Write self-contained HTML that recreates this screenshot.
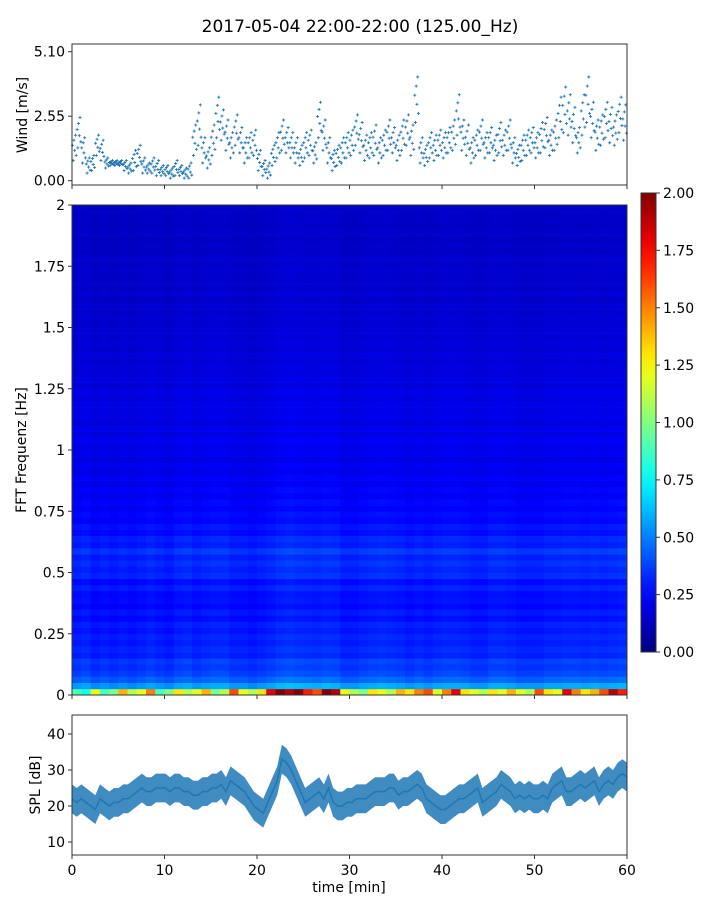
<!DOCTYPE html>
<html><head><meta charset="utf-8">
<style>
body{margin:0;background:#fff;width:720px;height:900px;overflow:hidden}
svg{display:block;font-family:"DejaVu Sans","Liberation Sans",sans-serif}
</style></head>
<body>
<svg id="c" width="720" height="900" xmlns="http://www.w3.org/2000/svg">
<text x="360" y="32" text-anchor="middle" font-size="17" fill="#000">2017-05-04 22:00-22:00 (125.00_Hz)</text>
</svg>
<script>
const windValues=[1.3,1.9,1.2,0.6,0.7,1.4,1.2,0.7,0.7,0.7,
0.7,0.6,0.5,0.8,1.0,0.6,0.5,0.6,0.5,0.4,
0.4,0.3,0.5,0.4,0.3,0.4,1.6,2.2,1.2,0.9,
1.6,2.5,2.2,1.8,1.4,2.0,1.6,1.2,1.4,1.5,
0.8,0.5,0.4,1.0,1.4,1.8,1.6,1.4,1.2,1.0,
1.4,1.5,1.1,2.4,1.8,1.2,0.8,1.0,1.2,1.4,
1.5,2.0,1.7,1.3,1.4,1.6,1.2,1.5,1.8,1.6,
1.3,1.8,2.0,1.6,3.2,1.2,1.0,1.4,1.3,1.5,
1.4,1.6,1.8,2.6,1.8,1.6,1.2,1.5,1.8,1.4,
1.6,1.3,1.7,1.5,1.8,1.2,1.0,1.3,1.5,1.6,
1.4,1.7,1.9,1.5,1.8,2.5,2.8,2.6,2.2,1.6,
2.6,3.2,2.4,1.8,2.0,2.4,2.2,2.0,2.6,2.3];
const windSpread=[0.5,0.6,0.5,0.3,0.3,0.4,0.4,0.2,0.1,0.1,
0.1,0.2,0.2,0.4,0.4,0.3,0.2,0.3,0.3,0.2,
0.2,0.2,0.3,0.2,0.2,0.3,0.6,0.8,0.5,0.4,
0.6,0.8,0.6,0.6,0.5,0.6,0.5,0.5,0.5,0.5,
0.4,0.3,0.3,0.4,0.5,0.6,0.5,0.5,0.5,0.4,
0.5,0.5,0.4,0.7,0.6,0.5,0.4,0.4,0.5,0.5,
0.5,0.6,0.6,0.5,0.5,0.6,0.5,0.5,0.6,0.5,
0.5,0.6,0.6,0.6,0.9,0.5,0.4,0.5,0.5,0.5,
0.5,0.5,0.6,0.8,0.6,0.6,0.5,0.5,0.6,0.5,
0.5,0.5,0.6,0.5,0.6,0.5,0.4,0.5,0.5,0.5,
0.5,0.6,0.6,0.5,0.6,0.8,0.9,0.8,0.7,0.5,
0.8,0.9,0.7,0.6,0.6,0.7,0.7,0.6,0.7,0.7];
const splMean=[22,21,22,21,20,19,22,21,20,21,
21,22,22,23,24,25,24,24,25,25,
25,24,25,25,24,24,23,23,24,24,
25,25,26,24,27,26,25,24,22,20,
19,18,21,24,27,33,32,30,27,24,
21,22,23,24,22,25,21,20,20,21,
21,22,22,22,23,24,24,24,25,25,
23,24,24,25,26,25,22,21,20,19,
19,20,21,22,22,23,24,25,21,22,
23,24,26,25,24,22,23,22,23,22,
22,23,22,25,26,27,24,24,25,26,
25,26,27,24,26,27,26,28,29,28];
const splSpread=4;
const freqProfile=[0.8,0.55,0.43,0.37,0.34,0.36,0.3,0.32,0.29,0.31,0.28,
0.3,0.26,0.29,0.25,0.27,0.26,0.3,0.26,0.32,0.3,
0.33,0.3,0.35,0.29,0.31,0.26,0.28,0.24,0.26,0.23,
0.25,0.22,0.24,0.21,0.23,0.2,0.22,0.19,0.21,0.2,
0.22,0.19,0.21,0.18,0.2,0.19,0.2,0.18,0.2,0.17,
0.19,0.17,0.18,0.16,0.18,0.16,0.17,0.16,0.17,0.15,
0.16,0.15,0.16,0.14,0.16,0.14,0.15,0.14,0.15,0.14,
0.15,0.13,0.14,0.13,0.14,0.13,0.14,0.13,0.14];
const timeIntensity=[1.0,1.05,0.95,1.0,0.95,1.0,0.95,1.0,1.05,1.0,
0.95,1.05,1.08,1.0,1.05,1.08,1.08,1.0,1.0,0.95,
1.0,1.05,1.12,1.15,1.12,1.1,1.08,1.12,1.1,1.0,
1.0,1.05,1.08,1.1,1.08,1.05,1.0,1.05,1.0,1.05,
1.08,1.08,1.05,1.0,1.0,1.08,1.08,1.05,1.0,1.0,
1.0,1.05,1.05,1.08,1.08,1.05,1.08,1.05,1.08,1.1];
const lowRow=[0.9,0.8,1.2,0.9,1.0,1.4,1.1,1.2,1.5,0.9,
1.0,1.3,1.1,1.2,1.4,1.0,1.1,1.6,1.2,1.1,
1.3,1.8,2.0,1.9,2.0,1.7,1.6,2.0,1.9,1.2,
1.1,1.0,1.3,1.2,1.1,1.4,1.3,1.5,1.6,1.2,
1.5,1.8,1.3,1.2,1.1,1.3,1.2,1.4,1.2,1.1,
1.6,1.3,1.2,1.8,1.5,1.3,1.4,1.6,1.9,1.7];
const windTicks=[0,2.55,5.10], windTickLabels=["0.00","2.55","5.10"];
const freqTicks=[0,0.25,0.5,0.75,1,1.25,1.5,1.75,2], freqTickLabels=["0","0.25","0.5","0.75","1","1.25","1.5","1.75","2"];
const cbTicks=[0,0.25,0.5,0.75,1,1.25,1.5,1.75,2], cbTickLabels=["0.00","0.25","0.50","0.75","1.00","1.25","1.50","1.75","2.00"];
const splTicks=[10,20,30,40], splTickLabels=["10","20","30","40"];
const timeTicks=[0,10,20,30,40,50,60], timeTickLabels=["0","10","20","30","40","50","60"];

const NS="http://www.w3.org/2000/svg", svg=document.getElementById('c');
function mk(tag,attrs,parent){const e=document.createElementNS(NS,tag);for(const k in attrs)e.setAttribute(k,attrs[k]);(parent||svg).appendChild(e);return e;}
const X0=72,X1=627;
const xs=t=>X0+(t/60)*(X1-X0);
const yWind=v=>180.7-(v/2.55)*64.5;
const yFreq=f=>695-(f/2)*490;
const yCb=v=>652-(v/2)*459;
const ySpl=v=>842-(v-10)*3.6;
function jet(v){v=Math.max(0,Math.min(1,v));const r=Math.max(0,Math.min(1,1.5-Math.abs(4*v-3))),g=Math.max(0,Math.min(1,1.5-Math.abs(4*v-2))),b=Math.max(0,Math.min(1,1.5-Math.abs(4*v-1)));return `rgb(${Math.round(r*255)},${Math.round(g*255)},${Math.round(b*255)})`;}
function txt(x,y,s,anchor,size,name,rot){const t=mk('text',{x:x,y:y,'text-anchor':anchor,'font-size':size||14,fill:'#000'});if(rot)t.setAttribute('transform',`rotate(-90 ${x} ${y})`);t.textContent=s;return t;}

const gW=mk('g',{});


const offs=[0.2,-1,0.6,-0.2,1,-0.6];
windValues.forEach((v,i)=>{const t=(i+0.5)*0.5;offs.forEach((o,k)=>{const x=xs(t+(k-2.5)*0.08),y=yWind(Math.max(0,v+o*windSpread[i]));const p=mk('path',{d:`M${x-1.5},${y}h3M${x},${y-1.5}v3`,stroke:'#1f77b4','stroke-width':0.9},gW);});});
const fw=mk('rect',{x:X0,y:44,width:X1-X0,height:141,fill:'none',stroke:'#333','stroke-width':1});

windTicks.forEach((v,i)=>{mk('line',{x1:X0-4,x2:X0,y1:yWind(v),y2:yWind(v),stroke:'#333'});txt(X0-7,yWind(v)+5,windTickLabels[i],'end',14,'wind-tick-label');});
timeTicks.forEach(t=>mk('line',{x1:xs(t),x2:xs(t),y1:185,y2:189,stroke:'#333'}));
txt(27,115,'Wind [m/s]','middle',14,'wind-y-axis-title',true);

const gS=mk('g',{});


const nT=timeIntensity.length,nF=freqProfile.length,df=2/nF;
for(let i=0;i<nT;i++){for(let j=0;j<nF;j++){const v=j===0?lowRow[i]:freqProfile[j]*timeIntensity[i];const x=xs(i*60/nT),y=yFreq((j+1)*df);const r=mk('rect',{x:x,y:y,width:xs((i+1)*60/nT)-x+0.3,height:yFreq(j*df)-y+0.3,fill:jet(v/2)},gS);}}
const fs=mk('rect',{x:X0,y:205,width:X1-X0,height:490,fill:'none',stroke:'#333'});

freqTicks.forEach((f,i)=>{mk('line',{x1:X0-4,x2:X0,y1:yFreq(f),y2:yFreq(f),stroke:'#333'});txt(X0-7,yFreq(f)+5,freqTickLabels[i],'end',14,'freq-tick-label');});
timeTicks.forEach(t=>mk('line',{x1:xs(t),x2:xs(t),y1:695,y2:699,stroke:'#333'}));
txt(26,450,'FFT Frequenz [Hz]','middle',14,'freq-y-axis-title',true);

const defs=mk('defs',{});const lg=mk('linearGradient',{id:'jg',x1:0,y1:1,x2:0,y2:0},defs);
for(let k=0;k<=20;k++)mk('stop',{offset:k/20,'stop-color':jet(k/20)},lg);
const cb=mk('rect',{x:641,y:193,width:15,height:459,fill:'url(#jg)',stroke:'#333'});

cbTicks.forEach((v,i)=>{mk('line',{x1:656,x2:660,y1:yCb(v),y2:yCb(v),stroke:'#333'});txt(663,yCb(v)+5,cbTickLabels[i],'start',14,'colorbar-tick-label');});

const gP=mk('g',{});


let up='',dn='',ln='';
splMean.forEach((v,i)=>{const x=xs(i*60/(splMean.length-1));up+=(i?'L':'M')+x+','+ySpl(v+splSpread);ln+=(i?'L':'M')+x+','+ySpl(v);});
for(let i=splMean.length-1;i>=0;i--){dn+='L'+xs(i*60/(splMean.length-1))+','+ySpl(splMean[i]-splSpread);}
const band=mk('path',{d:up+dn+'Z',fill:'#1f77b4','fill-opacity':0.85},gP);

const line=mk('path',{d:ln,fill:'none',stroke:'#1f77b4','stroke-width':1.5},gP);

const fp=mk('rect',{x:X0,y:715,width:X1-X0,height:140,fill:'none',stroke:'#333'});

splTicks.forEach((v,i)=>{mk('line',{x1:X0-4,x2:X0,y1:ySpl(v),y2:ySpl(v),stroke:'#333'});txt(X0-7,ySpl(v)+5,splTickLabels[i],'end',14,'spl-tick-label');});
timeTicks.forEach((t,i)=>{mk('line',{x1:xs(t),x2:xs(t),y1:855,y2:859,stroke:'#333'});txt(xs(t),875,timeTickLabels[i],'middle',14,'time-tick-label');});
txt(40,785,'SPL [dB]','middle',14,'spl-y-axis-title',true);
txt(349,892,'time [min]','middle',14,'x-axis-title');
</script>
</body></html>
